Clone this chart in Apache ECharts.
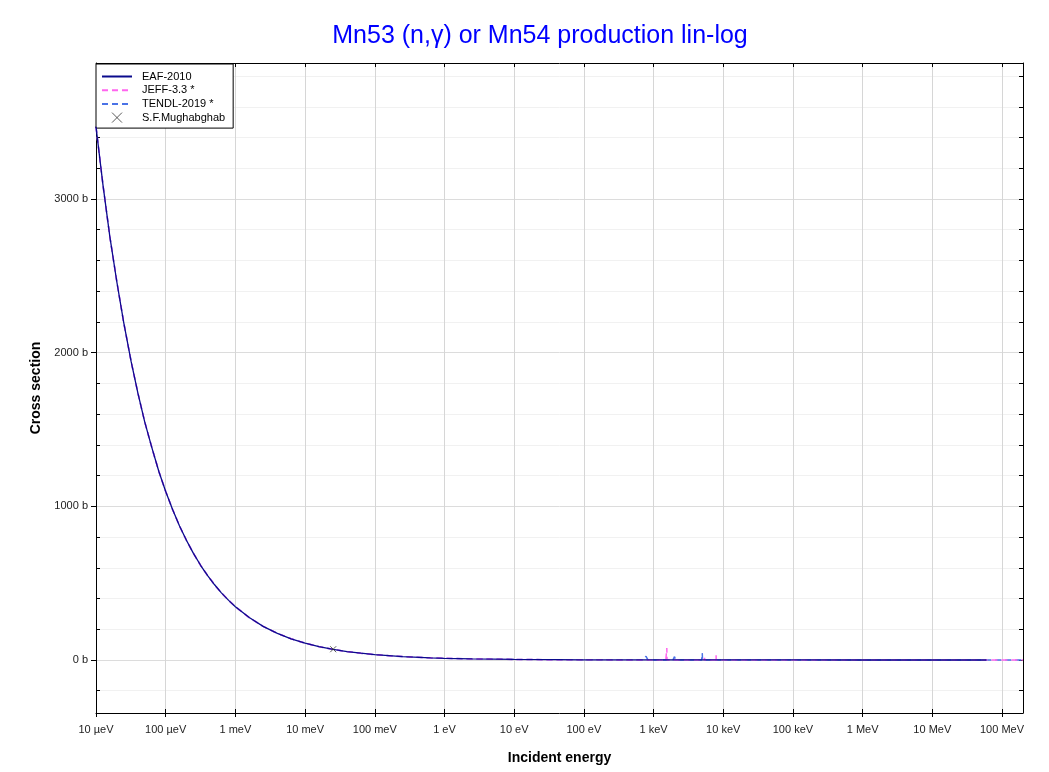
<!DOCTYPE html>
<html>
<head>
<meta charset="utf-8">
<script src="https://cdn.jsdelivr.net/npm/echarts@6/dist/echarts.min.js"></script>
<style>html,body{margin:0;padding:0;background:#fff;}#c{width:1049px;height:772px;}</style>
</head>
<body>
<div id="c"></div>
<script>
// ---- Data ----
const titleText = 'Mn53 (n,\u03b3) or Mn54 production lin-log';
const xTickValues = [1e-5, 1e-4, 1e-3, 1e-2, 1e-1, 1, 10, 100, 1e3, 1e4, 1e5, 1e6, 1e7, 1e8];
const xTickLabels = ['10 \u00b5eV','100 \u00b5eV','1 meV','10 meV','100 meV','1 eV','10 eV','100 eV','1 keV','10 keV','100 keV','1 MeV','10 MeV','100 MeV'];
const yMajorTicks = [0, 1000, 2000, 3000];
const yMinorTicks = [-200, 200, 400, 600, 800, 1200, 1400, 1600, 1800, 2200, 2400, 2600, 2800, 3200, 3400, 3600, 3800];

// low-energy (smooth 1/v-like) part, shared visually by all evaluations
const lowE  = [1.0e-5, 1.26e-5, 1.58e-5, 2.0e-5, 2.5e-5, 3.2e-5, 4.0e-5, 5.0e-5, 6.3e-5, 8.0e-5,
               1.0e-4, 1.26e-4, 1.58e-4, 2.0e-4, 2.5e-4, 3.2e-4, 4.0e-4, 5.0e-4, 6.3e-4, 8.0e-4,
               1.0e-3, 1.58e-3, 2.5e-3, 4.0e-3, 6.3e-3, 1.0e-2, 1.58e-2, 2.53e-2, 4.0e-2, 6.3e-2,
               0.1, 0.25, 0.63, 1, 2.5, 10, 40, 100, 300];
const lowXS = [3470, 3090, 2755, 2455, 2195, 1940, 1735, 1550, 1385, 1225,
               1097, 978, 872, 776, 694, 613, 549, 491, 437, 388,
               347, 276, 219, 173, 138, 110, 87, 69, 55, 44,
               35, 22, 14, 11, 6.9, 3.5, 1.7, 1.1, 0.63];

// EAF-2010 above 300 eV (ends at 60 MeV)
const eafHighE  = [1000, 1e4, 1e5, 1e6, 1e7, 6e7];
const eafHighXS = [0.35, 0.2, 0.08, 0.02, 0.003, 0.001];

// JEFF-3.3 above 300 eV
const jeffHighE  = [1500, 1540, 1550, 1560, 5300, 5390, 5400, 5410, 7800, 7880, 7900, 7920, 1e4, 1e5, 1e6, 1e7, 1e8, 2e8];
const jeffHighXS = [0.3, 0.3, 78, 0.3, 0.3, 0.3, 14, 0.3, 0.25, 0.25, 30, 0.25, 0.2, 0.08, 0.02, 0.003, 0.001, 0.0005];

// TENDL-2019 above 300 eV
const tendlHighE  = [700, 740, 780, 830, 870, 1900, 1940, 2000, 2070, 2900, 3000, 3100, 4900, 4960, 5000, 5040, 1e4, 1e5, 1e6, 1e7, 1e8, 2e8];
const tendlHighXS = [0.4, 0.5, 24, 0.8, 0.4, 0.3, 0.4, 22, 0.4, 0.3, 5, 0.3, 0.3, 0.3, 45, 0.3, 0.2, 0.08, 0.02, 0.003, 0.001, 0.0005];

// experimental point (S.F.Mughabghab)
const expE  = [0.0253];
const expXS = [70];

// ---- Chart ----
const FONT = '"Liberation Sans", Arial, sans-serif';
function pairs(e, s) { return e.map((v, i) => [v, s[i]]); }
const eafData   = pairs(lowE, lowXS).concat(pairs(eafHighE, eafHighXS));
const jeffData  = pairs(lowE, lowXS).concat(pairs(jeffHighE, jeffHighXS));
const tendlData = pairs(lowE, lowXS).concat(pairs(tendlHighE, tendlHighXS));
const expData   = pairs(expE, expXS);

const X_MIN = 1e-5, X_MAX = 2e8, Y_MIN = -345, Y_MAX = 3885;
function xLabel(v) {
  const l = Math.log10(v), e = Math.round(l);
  if (Math.abs(l - e) > 0.01) return '';
  const idx = xTickValues.findIndex(t => Math.abs(Math.log10(t) - e) < 0.01);
  return idx >= 0 ? xTickLabels[idx] : '';
}
const crossPath = 'path://M0,0L10,10M10,0L0,10';
const hideSym = {opacity: 0};

const chart = echarts.init(document.getElementById('c'), null, {renderer: 'canvas'});
chart.setOption({
  animation: false,
  backgroundColor: '#fff',
  textStyle: {fontFamily: FONT},
  title: {
    text: titleText, left: 540, textAlign: 'center', top: 24, padding: 0,
    textStyle: {color: '#0000ff', fontSize: 25, fontWeight: 'normal', fontFamily: FONT}
  },
  grid: {left: 96, right: 26, top: 63, bottom: 59, containLabel: false},
  legend: {
    orient: 'vertical', left: 96, top: 64,
    backgroundColor: '#fff', borderColor: '#000', borderWidth: 1, borderRadius: 0,
    padding: [7, 8, 5, 5], itemWidth: 30, itemHeight: 10, itemGap: 2.7,
    textStyle: {fontSize: 11, color: '#000', fontFamily: FONT, padding: [0, 0, 0, 5]},
    data: [
      {name: 'EAF-2010', itemStyle: hideSym},
      {name: 'JEFF-3.3 *', itemStyle: hideSym},
      {name: 'TENDL-2019 *', itemStyle: hideSym},
      {name: 'S.F.Mughabghab', icon: crossPath, itemStyle: {color: 'rgba(0,0,0,0)', borderColor: '#333', borderWidth: 1}}
    ]
  },
  xAxis: [
    {
      type: 'log', logBase: 10, min: X_MIN, max: X_MAX,
      name: 'Incident energy', nameLocation: 'middle', nameGap: 38,
      nameTextStyle: {fontSize: 14, fontWeight: 'bold', color: '#000', fontFamily: FONT},
      axisLine: {show: true, onZero: false, lineStyle: {color: '#000', width: 1}},
      axisTick: {show: true, inside: false, length: 4, customValues: xTickValues, lineStyle: {color: '#000'}},
      axisLabel: {customValues: xTickValues, formatter: xLabel, fontSize: 11, color: '#222', margin: 11, fontFamily: FONT},
      splitLine: {show: true, lineStyle: {color: '#d6d6d6', width: 1}},
      minorTick: {show: false}, minorSplitLine: {show: false}
    },
    {
      type: 'log', logBase: 10, min: X_MIN, max: X_MAX, position: 'bottom',
      axisLine: {show: false, onZero: false},
      axisTick: {show: true, inside: true, length: 4, customValues: xTickValues, lineStyle: {color: '#000'}},
      axisLabel: {show: false, customValues: xTickValues}, splitLine: {show: false}
    },
    {
      type: 'log', logBase: 10, min: X_MIN, max: X_MAX, position: 'top',
      axisLine: {show: true, onZero: false, lineStyle: {color: '#000', width: 1}},
      axisTick: {show: true, inside: true, length: 4, customValues: xTickValues, lineStyle: {color: '#000'}},
      axisLabel: {show: false, customValues: xTickValues}, splitLine: {show: false}
    }
  ],
  yAxis: [
    {
      type: 'value', min: Y_MIN, max: Y_MAX, position: 'left',
      name: 'Cross section', nameLocation: 'middle', nameGap: 50, nameRotate: 90,
      nameTextStyle: {fontSize: 14, fontWeight: 'bold', color: '#000', fontFamily: FONT},
      axisLine: {show: true, onZero: false, lineStyle: {color: '#000', width: 1}},
      axisTick: {show: true, inside: false, length: 5, customValues: yMajorTicks, lineStyle: {color: '#000'}},
      axisLabel: {customValues: yMajorTicks, formatter: v => v + ' b', fontSize: 11, color: '#222', margin: 8, fontFamily: FONT},
      splitLine: {show: true, lineStyle: {color: '#dcdcdc', width: 1}}
    },
    {
      type: 'value', min: Y_MIN, max: Y_MAX, position: 'left',
      axisLine: {show: false},
      axisTick: {show: true, inside: true, length: 4, customValues: yMinorTicks, lineStyle: {color: '#000'}},
      axisLabel: {show: false, customValues: yMinorTicks},
      splitLine: {show: true, lineStyle: {color: '#f1f1f1', width: 1}}
    },
    {
      type: 'value', min: Y_MIN, max: Y_MAX, position: 'right',
      axisLine: {show: true, onZero: false, lineStyle: {color: '#000', width: 1}},
      axisTick: {show: true, inside: true, length: 4, customValues: yMajorTicks.concat(yMinorTicks), lineStyle: {color: '#000'}},
      axisLabel: {show: false, customValues: yMajorTicks.concat(yMinorTicks)},
      splitLine: {show: false}
    }
  ],
  series: [
    {
      name: 'TENDL-2019 *', type: 'line', data: tendlData, xAxisIndex: 0, yAxisIndex: 0,
      symbol: 'none', color: '#4a72e6',
      lineStyle: {color: '#4a72e6', width: 1.5, type: [6, 4]}, z: 2
    },
    {
      name: 'JEFF-3.3 *', type: 'line', data: jeffData, xAxisIndex: 0, yAxisIndex: 0,
      symbol: 'none', color: '#ff66ee',
      lineStyle: {color: '#ff66ee', width: 1.5, type: [6, 4]}, z: 3
    },
    {
      name: 'EAF-2010', type: 'line', data: eafData, xAxisIndex: 0, yAxisIndex: 0,
      symbol: 'none', color: '#0a0a8c',
      lineStyle: {color: '#0a0a8c', width: 1.3}, z: 4
    },
    {
      name: 'S.F.Mughabghab', type: 'scatter', data: expData, xAxisIndex: 0, yAxisIndex: 0,
      symbol: crossPath, symbolSize: 6, color: '#333',
      itemStyle: {color: 'rgba(0,0,0,0)', borderColor: '#333', borderWidth: 1}, z: 5
    }
  ]
});
</script>
</body>
</html>
